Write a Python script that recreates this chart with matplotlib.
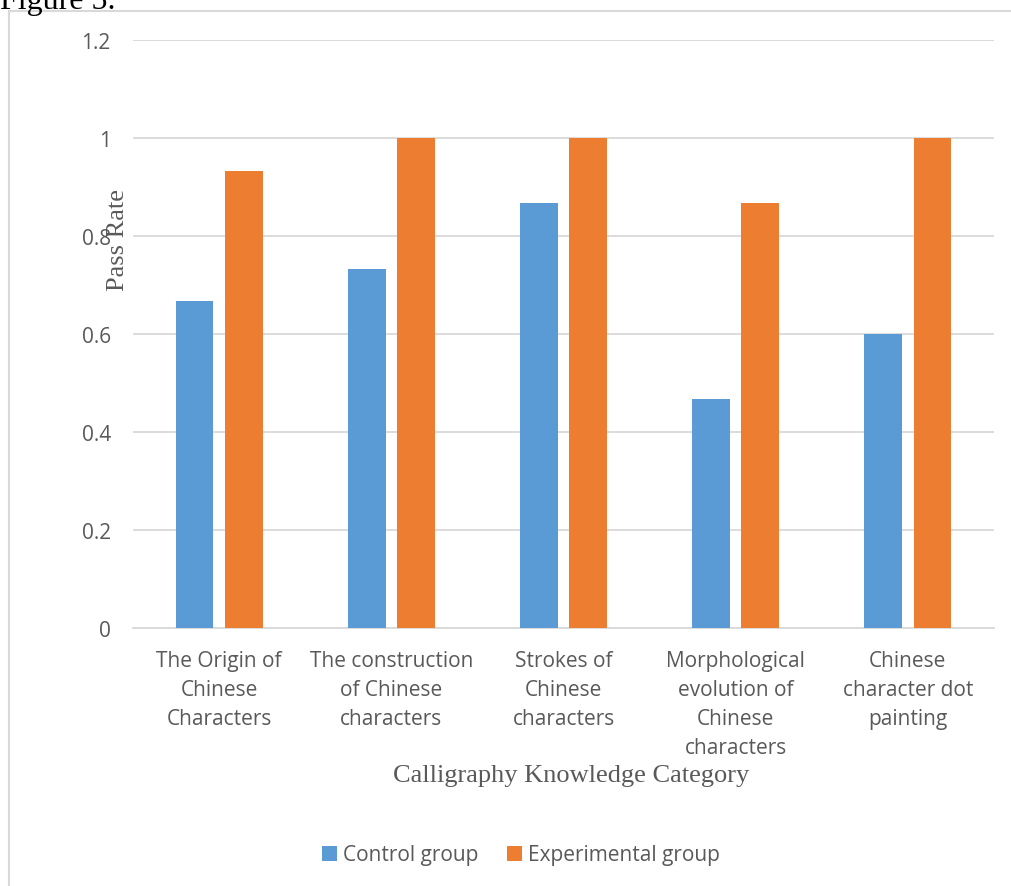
import numpy as np
import matplotlib.pyplot as plt
from matplotlib.lines import Line2D

categories = ["The Origin of\nChinese\nCharacters",
              "The construction\nof Chinese\ncharacters",
              "Strokes of\nChinese\ncharacters",
              "Morphological\nevolution of\nChinese\ncharacters",
              "Chinese\ncharacter dot\npainting"]
control = [0.667, 0.733, 0.867, 0.467, 0.6]
experimental = [0.933, 1.0, 1.0, 0.867, 1.0]

W, H = 1011, 887
fig = plt.figure(figsize=(W / 100, H / 100), dpi=100)
ax = fig.add_axes([133 / W, 1 - 629 / H, (994 - 133) / W, (629 - 41) / H])

gris = "#595959"
x = np.arange(len(categories))
ancho = 0.22
ax.bar(x - 0.143, control, ancho, color="#5b9bd5", label="Control group", zorder=3)
ax.bar(x + 0.143, experimental, ancho, color="#ed7d31", label="Experimental group", zorder=3)

ax.set_xlim(-0.5, len(categories) - 0.5)
ax.set_ylim(0, 1.2)
ax.set_yticks([0, 0.2, 0.4, 0.6, 0.8, 1, 1.2])
ax.set_yticklabels(["0", "0.2", "0.4", "0.6", "0.8", "1", "1.2"])
ax.set_xticks(x)
ax.set_xticklabels(categories, linespacing=1.5)
ax.tick_params(axis="both", length=0, labelsize=15, labelcolor=gris)
ax.tick_params(axis="x", pad=16)
ax.tick_params(axis="y", pad=16)
for lab in ax.get_xticklabels() + ax.get_yticklabels():
    lab.set_fontfamily("Open Sans")
ax.grid(axis="y", color="#d9d9d9", linewidth=1.3, zorder=0)
for s in ["top", "right", "left"]:
    ax.spines[s].set_visible(False)
ax.spines["bottom"].set_color("#d9d9d9")
ax.spines["bottom"].set_linewidth(1.3)

fig.text(118 / W, 1 - 240 / H, "Pass Rate", rotation=90, ha="center", va="center",
         fontsize=19, color=gris, family="Liberation Serif")
fig.text(571 / W, 1 - 776 / H, "Calligraphy Knowledge Category", ha="center", va="center",
         fontsize=19, color=gris, family="Liberation Serif")
fig.text(0.0, 1 - 9 / H, "Figure 5.", ha="left", va="baseline", fontsize=23,
         color="black", family="Liberation Serif")

# marco del grafico
fig.add_artist(Line2D([9 / W, 9 / W], [0, 1 - 12 / H], color="#d9d9d9", linewidth=1.5))
fig.add_artist(Line2D([9 / W, 1], [1 - 12 / H, 1 - 12 / H], color="#d9d9d9", linewidth=1.5))

leg = fig.legend(loc="center", bbox_to_anchor=(521 / W, 1 - 856 / H), ncol=2, frameon=False,
                 handlelength=0.7, handleheight=0.7, handletextpad=0.3,
                 columnspacing=1.4, prop={"family": "Open Sans", "size": 15})
for t in leg.get_texts():
    t.set_color(gris)

plt.savefig("out.png", dpi=100)
